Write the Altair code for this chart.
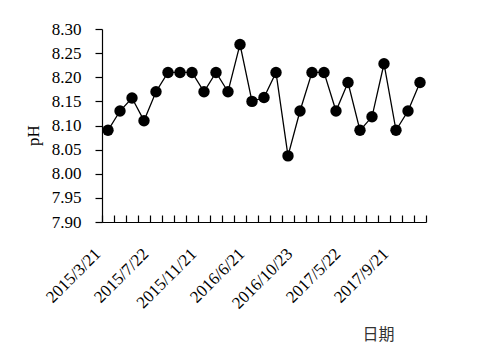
import altair as alt
import pandas as pd

labels = ["2015/3/21", "", "", "", "2015/7/22", "", "", "", "2015/11/21", "", "", "",
          "2016/6/21", "", "", "", "2016/10/23", "", "", "", "2017/5/22", "", "", "",
          "2017/9/21", "", ""]
ph = [8.09, 8.13, 8.157, 8.11, 8.17, 8.21, 8.21, 8.21, 8.17, 8.21, 8.17, 8.268,
      8.15, 8.158, 8.21, 8.037, 8.13, 8.21, 8.21, 8.13, 8.189, 8.09, 8.118, 8.228,
      8.09, 8.13, 8.189]
y_ticks = [7.90, 7.95, 8.00, 8.05, 8.10, 8.15, 8.20, 8.25, 8.30]

df = pd.DataFrame({"idx": list(range(len(ph))), "ph": ph})
label_arr = "[" + ",".join("'" + s + "'" for s in labels) + "]"

FONT = "Liberation Serif"
W, H = 324, 193

x_labels = alt.X(
    "idx:O",
    scale=alt.Scale(paddingInner=0, paddingOuter=0),
    axis=alt.Axis(
        orient="bottom", title="日期", labelExpr=label_arr + "[datum.value]",
        labelAngle=-45, labelAlign="right", labelBaseline="middle",
        labelPadding=29, labelOffset=-10, ticks=False, domain=False,
        labelFont=FONT, labelFontSize=17, labelColor="black",
        titleFont="Noto Sans CJK SC", titleFontSize=16, titleFontWeight="normal",
        titleColor="#333333", titleX=276, titleY=112, titleAlign="center",
        titleBaseline="middle", labelOverlap=False,
    ),
)
x_ticks = alt.X(
    "idx:O",
    scale=alt.Scale(paddingInner=0, paddingOuter=0),
    axis=alt.Axis(
        orient="top", offset=-H, labels=False, title=None, tickBand="extent",
        ticks=True, tickSize=7, tickColor="black", domain=True, domainColor="black",
        tickWidth=1.2, domainWidth=1.2,
    ),
)
y_axis = alt.Axis(
    values=y_ticks, format=".2f", title="pH", grid=False, tickSize=7,
    tickColor="black", domainColor="black", tickWidth=1.2, domainWidth=1.2,
    labelFont=FONT, labelFontSize=17, labelColor="black", labelPadding=14,
    labelOverlap=False,
    titleFont=FONT, titleFontSize=17, titleFontWeight="normal", titleColor="black",
    titleX=-60, titleY=106, titleAngle=-90, titleBaseline="bottom",
    labelFlush=False,
)
y_scale = alt.Scale(domain=[7.90, 8.30], zero=False, nice=False)

line = alt.Chart(df).mark_line(color="black", strokeWidth=1.3).encode(
    x=x_labels, y=alt.Y("ph:Q", scale=y_scale, axis=y_axis))
pts = alt.Chart(df).mark_point(filled=True, color="black", size=130, opacity=1).encode(
    x=x_ticks, y=alt.Y("ph:Q", scale=y_scale, axis=y_axis))

chart = alt.layer(line, pts).resolve_axis(x="independent").properties(
    width=W, height=H,
    background="white",
    autosize=alt.AutoSizeParams(type="none"),
    padding={"left": 102, "top": 29, "right": 58, "bottom": 126},
).configure_view(stroke=None)

chart.save("out.html", embed_options={"renderer": "svg", "actions": False})
